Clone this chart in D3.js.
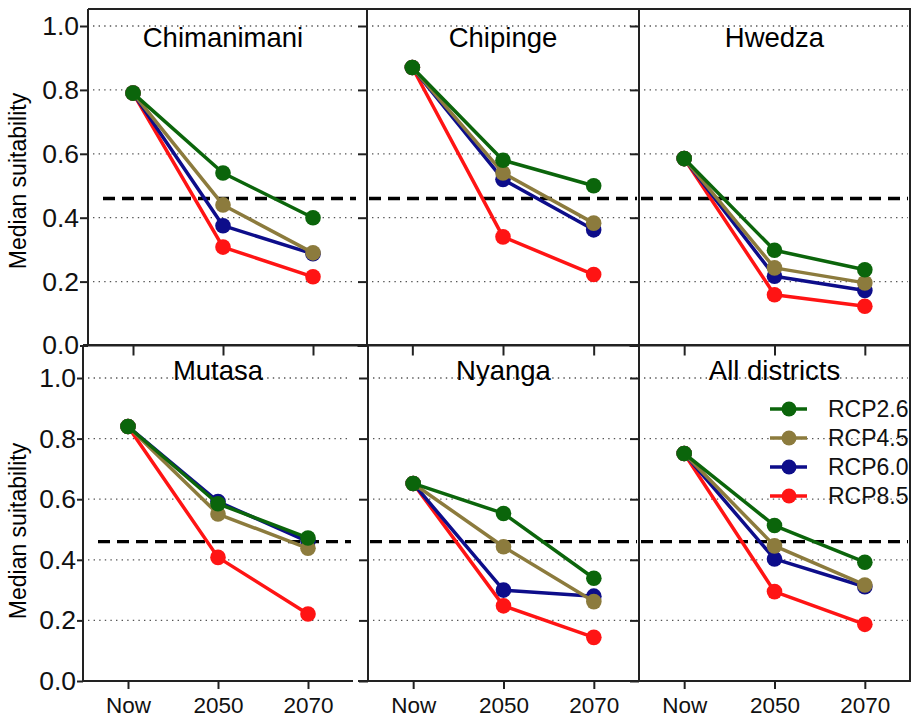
<!DOCTYPE html>
<html>
<head>
<meta charset="utf-8">
<script src="https://cdn.jsdelivr.net/npm/d3@7"></script>
<style>
  html, body { margin: 0; padding: 0; background: #fff; }
  svg { display: block; font-family: "Liberation Sans", Arial, Helvetica, sans-serif; }
</style>
</head>
<body>
<svg id="chart" width="916" height="718"></svg>
<script>
// ---- data ----
const categories = ["Now", "2050", "2070"];
const scenarios = ["RCP2.6", "RCP4.5", "RCP6.0", "RCP8.5"];
const districts = ["Chimanimani", "Chipinge", "Hwedza", "Mutasa", "Nyanga", "All districts"];
const rcp26 = [[0.79, 0.54, 0.40], [0.87, 0.58, 0.50], [0.585, 0.298, 0.237], [0.84, 0.585, 0.472], [0.652, 0.553, 0.339], [0.751, 0.513, 0.392]];
const rcp45 = [[0.79, 0.44, 0.29], [0.87, 0.54, 0.383], [0.585, 0.243, 0.196], [0.84, 0.551, 0.438], [0.652, 0.443, 0.262], [0.751, 0.446, 0.317]];
const rcp60 = [[0.79, 0.375, 0.287], [0.87, 0.52, 0.362], [0.585, 0.217, 0.172], [0.84, 0.592, 0.46], [0.652, 0.30, 0.28], [0.751, 0.403, 0.311]];
const rcp85 = [[0.79, 0.308, 0.215], [0.87, 0.34, 0.222], [0.585, 0.159, 0.123], [0.84, 0.408, 0.221], [0.652, 0.248, 0.144], [0.751, 0.295, 0.187]];
const threshold = 0.46;
const yTicks = [0, 0.2, 0.4, 0.6, 0.8, 1.0];
const yLabel = "Median suitability";

// ---- styles / layout ----
const colors = { "RCP2.6": "#0b650b", "RCP4.5": "#8c7b3d", "RCP6.0": "#0d0d8a", "RCP8.5": "#ff1414" };
const seriesValues = { "RCP2.6": rcp26, "RCP4.5": rcp45, "RCP6.0": rcp60, "RCP8.5": rcp85 };
const drawOrder = ["RCP8.5", "RCP6.0", "RCP4.5", "RCP2.6"];
const frameColor = "#222";

const rows = [
  { top: 9, y0: 345.5, y1: 26, titleY: 47, labelY: 181 },
  { top: 345, y0: 681, y1: 378, titleY: 380, labelY: 531 }
];
const cols = [
  [{ left: 88, right: 358 }, { left: 367, right: 639 }, { left: 639, right: 910 }],
  [{ left: 83, right: 353 }, { left: 368, right: 639 }, { left: 639, right: 910 }]
];

const svg = d3.select("#chart");

districts.forEach((name, di) => {
  const r = Math.floor(di / 3), c = di % 3;
  const row = rows[r], col = cols[r][c];
  const x = d3.scalePoint().domain(categories).range([col.left, col.right]).padding(0.5);
  const y = d3.scaleLinear().domain([0, 1]).range([row.y0, row.y1]);
  const g = svg.append("g");

  // dotted gridlines
  g.selectAll("line.grid").data(yTicks.filter(t => t > 0)).join("line")
    .attr("x1", col.left + 5).attr("x2", col.right - 2)
    .attr("y1", d => y(d)).attr("y2", d => y(d))
    .attr("stroke", "#555").attr("stroke-width", 1.3)
    .attr("stroke-dasharray", "1.4,4.2");

  // threshold dashed line
  g.append("line")
    .attr("x1", col.left + (c === 0 ? 15 : 2)).attr("x2", col.right - 2)
    .attr("y1", y(threshold)).attr("y2", y(threshold))
    .attr("stroke", "#000").attr("stroke-width", 3.4)
    .attr("stroke-dasharray", "12,7");

  // y axis
  const yAxis = d3.axisLeft(y).tickValues(yTicks).tickSizeOuter(0)
    .tickSize(c === 0 ? (r === 0 ? 8 : 6) : 9)
    .tickPadding(1)
    .tickFormat(c === 0 ? d3.format(".1f") : () => "");
  const ya = g.append("g").attr("transform", `translate(${col.left},0)`).call(yAxis);
  ya.select(".domain").remove();
  ya.selectAll(".tick line").attr("stroke", frameColor).attr("stroke-width", 2);
  ya.selectAll(".tick text").attr("fill", "#111").style("font-size", "26.5px")
    .attr("font-family", "'Liberation Sans', Arial, sans-serif");
  g.append("line").attr("x1", col.left).attr("x2", col.left)
    .attr("y1", row.top).attr("y2", row.y0)
    .attr("stroke", frameColor).attr("stroke-width", 2);

  // x axis
  const xAxis = d3.axisBottom(x).tickSizeOuter(0).tickSize(r === 0 ? 10 : 8).tickPadding(8)
    .tickFormat(r === 1 ? d => d : () => "");
  const xa = g.append("g").attr("transform", `translate(0,${row.y0})`).call(xAxis);
  xa.select(".domain").remove();
  xa.selectAll(".tick line").attr("stroke", frameColor).attr("stroke-width", 2);
  xa.selectAll(".tick text").attr("fill", "#111").style("font-size", "22.5px")
    .attr("font-family", "'Liberation Sans', Arial, sans-serif");
  g.append("line").attr("x1", col.left - (c === 0 ? 0 : 10)).attr("x2", col.right + (c === 2 ? 1 : 0))
    .attr("y1", row.y0).attr("y2", row.y0)
    .attr("stroke", frameColor).attr("stroke-width", 2);

  // top border
  g.append("line").attr("x1", col.left).attr("x2", c === 0 ? cols[r][1].left : col.right + 1)
    .attr("y1", row.top).attr("y2", row.top)
    .attr("stroke", frameColor).attr("stroke-width", 2);
  // right border on the last column
  if (c === 2) {
    g.append("line").attr("x1", col.right).attr("x2", col.right)
      .attr("y1", row.top).attr("y2", row.y0)
      .attr("stroke", frameColor).attr("stroke-width", 2);
  }

  // title
  g.append("text").attr("x", x("2050")).attr("y", row.titleY)
    .attr("text-anchor", "middle").style("font-size", "27.5px").attr("fill", "#000")
    .text(name);

  // series
  const line = d3.line().x((d, i) => x(categories[i])).y(d => y(d));
  drawOrder.forEach(s => {
    const vals = seriesValues[s][di];
    g.append("path").attr("d", line(vals)).attr("fill", "none")
      .attr("stroke", colors[s]).attr("stroke-width", 3.5).attr("stroke-linejoin", "round");
    g.selectAll(null).data(vals).join("circle")
      .attr("cx", (d, i) => x(categories[i])).attr("cy", d => y(d))
      .attr("r", 7.8).attr("fill", colors[s]);
  });

  // y axis title
  if (c === 0) {
    g.append("text")
      .attr("transform", `translate(26,${row.labelY}) rotate(-90)`)
      .attr("text-anchor", "middle").style("font-size", "23px").attr("fill", "#000")
      .text(yLabel);
  }

  // legend in last panel
  if (di === districts.length - 1) {
    const lg = g.append("g");
    scenarios.forEach((s, i) => {
      const ly = 409 + i * 29;
      lg.append("line").attr("x1", 770).attr("x2", 807).attr("y1", ly).attr("y2", ly)
        .attr("stroke", colors[s]).attr("stroke-width", 3.5);
      lg.append("circle").attr("cx", 789).attr("cy", ly).attr("r", 7.5).attr("fill", colors[s]);
      lg.append("text").attr("x", 828).attr("y", ly).attr("dy", "0.36em")
        .style("font-size", "23px").attr("fill", "#111").text(s);
    });
  }
});
</script>
</body>
</html>
